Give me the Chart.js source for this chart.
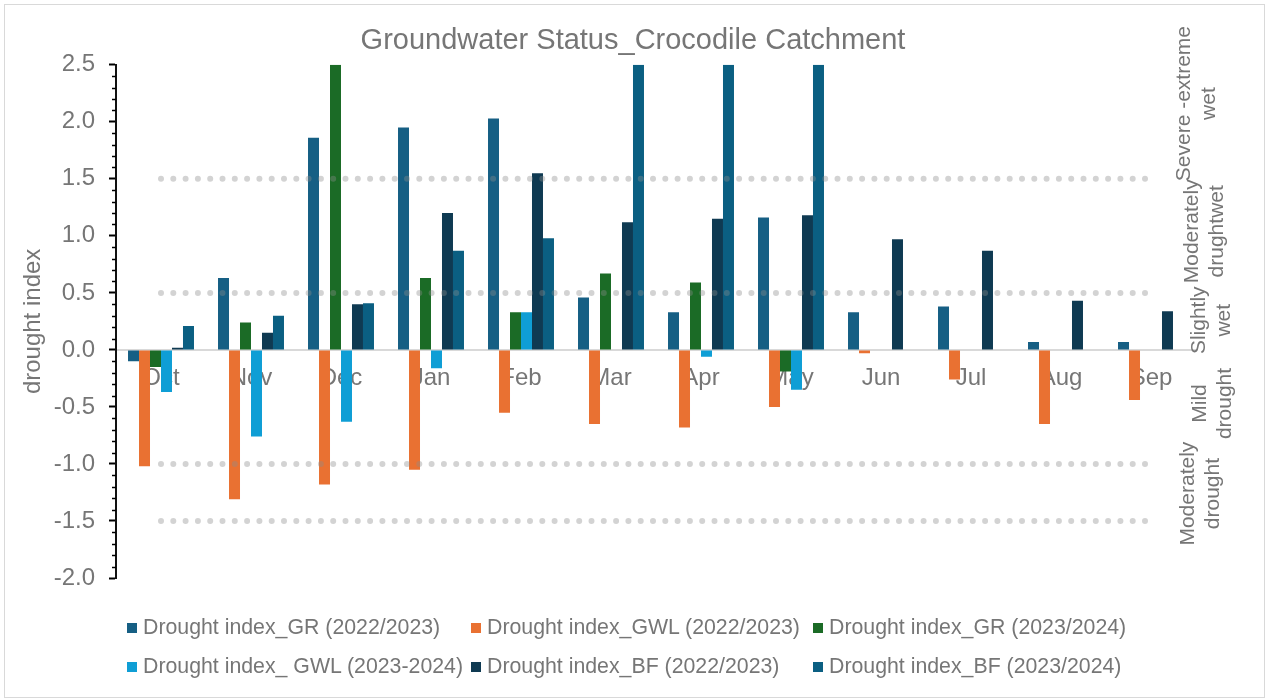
<!DOCTYPE html>
<html>
<head>
<meta charset="utf-8">
<title>Groundwater Status_Crocodile Catchment</title>
<script src="https://cdn.jsdelivr.net/npm/chart.js@4.4.1/dist/chart.umd.min.js"></script>
<style>
    html, body { margin: 0; padding: 0; background: #fff; }
    #wrap { position: relative; width: 1266px; height: 699px; font-family: "Liberation Sans", Arial, sans-serif; }
    #frame { position: absolute; left: 4px; top: 4px; width: 1259px; height: 692px; border: 1px solid #d9d9d9; pointer-events: none; }
    #legend { position: absolute; left: 127px; top: 608px; display: grid; grid-template-columns: 344px 342px 360px; grid-auto-rows: 39px; }
    .legend-item { display: flex; align-items: center; font-size: 21.3px; color: #767676; white-space: nowrap; }
    .legend-box { width: 10px; height: 10px; margin-right: 6px; flex: none; }
</style>
</head>
<body>
<div id="wrap">
    <canvas id="chart" width="1266" height="699"></canvas>
    <div id="frame"></div>
    <div id="legend"></div>
</div>
<script>
const months = ['Oct', 'Nov', 'Dec', 'Jan', 'Feb', 'Mar', 'Apr', 'May', 'Jun', 'Jul', 'Aug', 'Sep'];

// drought index values per month
const grPrev = [-0.10, 0.63, 1.86, 1.95, 2.03, 0.46, 0.33, 1.16, 0.33, 0.38, 0.07, 0.07];
const gwlPrev = [-1.02, -1.31, -1.18, -1.05, -0.55, -0.65, -0.68, -0.50, -0.03, -0.26, -0.65, -0.44];
const grCurr = [-0.15, 0.24, 2.5, 0.63, 0.33, 0.67, 0.59, -0.19, null, null, null, null];
const gwlCurr = [-0.37, -0.76, -0.63, -0.16, 0.33, null, -0.06, -0.35, null, null, null, null];
const bfPrev = [0.02, 0.15, 0.40, 1.20, 1.55, 1.12, 1.15, 1.18, 0.97, 0.87, 0.43, 0.34];
const bfCurr = [0.21, 0.30, 0.41, 0.87, 0.98, 2.5, 2.5, 2.5, null, null, null, null];

// class boundaries (dotted lines)
const severeWet = [1.5, 1.5, 1.5, 1.5, 1.5, 1.5, 1.5, 1.5, 1.5, 1.5, 1.5, 1.5];
const slightWet = [0.5, 0.5, 0.5, 0.5, 0.5, 0.5, 0.5, 0.5, 0.5, 0.5, 0.5, 0.5];
const moderateDrought = [-1.0, -1.0, -1.0, -1.0, -1.0, -1.0, -1.0, -1.0, -1.0, -1.0, -1.0, -1.0];
const severeDrought = [-1.5, -1.5, -1.5, -1.5, -1.5, -1.5, -1.5, -1.5, -1.5, -1.5, -1.5, -1.5];

const seriesNames = [
    'Drought index_GR (2022/2023)',
    'Drought index_GWL (2022/2023)',
    'Drought index_GR (2023/2024)',
    'Drought index_ GWL (2023-2024)',
    'Drought index_BF (2022/2023)',
    'Drought index_BF (2023/2024)'
];
const seriesData = [grPrev, gwlPrev, grCurr, gwlCurr, bfPrev, bfCurr];
const seriesColors = ['#165f84', '#e97132', '#1b6b26', '#0f9ed5', '#0f3a52', '#0b5f82'];

const classLabels = [
    { lines: ['Severe -extreme', 'wet'], value: 2.16, x: 1197 },
    { lines: ['Moderately', 'drughtwet'], value: 1.04, x: 1205 },
    { lines: ['Slightly', 'wet'], value: 0.26, x: 1212 },
    { lines: ['Mild', 'drought'], value: -0.47, x: 1213 },
    { lines: ['Moderately', 'drought'], value: -1.26, x: 1201 }
];

const textGray = '#767676';
const fontFamily = '"Liberation Sans", Arial, sans-serif';

const extras = {
    id: 'extras',
    afterDraw(chart) {
        const ctx = chart.ctx;
        const y = chart.scales.y;
        const left = chart.chartArea.left;

        // minor tick marks every 0.1
        ctx.save();
        ctx.strokeStyle = '#000';
        ctx.lineWidth = 1.5;
        for (let i = -20; i <= 25; i++) {
            if (i % 5 === 0) continue;
            const py = Math.round(y.getPixelForValue(i / 10)) + 0.5;
            ctx.beginPath();
            ctx.moveTo(left - 4, py);
            ctx.lineTo(left, py);
            ctx.stroke();
        }
        ctx.restore();

        // class labels on the right
        ctx.save();
        ctx.fillStyle = textGray;
        ctx.font = '21px ' + fontFamily;
        ctx.textAlign = 'center';
        ctx.textBaseline = 'middle';
        classLabels.forEach(lbl => {
            ctx.save();
            ctx.translate(lbl.x, y.getPixelForValue(lbl.value));
            ctx.rotate(-Math.PI / 2);
            const lh = 25;
            lbl.lines.forEach((t, i) => {
                ctx.fillText(t, 0, (i - (lbl.lines.length - 1) / 2) * lh);
            });
            ctx.restore();
        });
        ctx.restore();
    }
};

function dottedLine(data) {
    return {
        type: 'line',
        data: data,
        borderColor: 'rgba(140,140,140,0.38)',
        borderWidth: 6,
        borderDash: [0, 12.3],
        borderCapStyle: 'round',
        pointRadius: 0,
        fill: false,
        order: 0
    };
}

const datasets = seriesNames.map((name, i) => ({
    type: 'bar',
    label: name,
    data: seriesData[i],
    backgroundColor: seriesColors[i],
    barPercentage: 1,
    categoryPercentage: 0.733,
    order: 1
}));
[severeWet, slightWet, moderateDrought, severeDrought].forEach(d => datasets.push(dottedLine(d)));

new Chart(document.getElementById('chart').getContext('2d'), {
    type: 'bar',
    data: { labels: months, datasets: datasets },
    options: {
        responsive: false,
        animation: false,
        devicePixelRatio: 1,
        layout: { padding: { left: 0, right: 0, top: 0, bottom: 121 } },
        plugins: {
            legend: { display: false },
            tooltip: { enabled: false },
            title: {
                display: true,
                text: 'Groundwater Status_Crocodile Catchment',
                color: textGray,
                font: { family: fontFamily, size: 29, weight: 'normal' },
                padding: { top: 24, bottom: 6 }
            }
        },
        scales: {
            x: {
                position: { y: 0 },
                grid: { display: false, drawTicks: false },
                border: { display: true, color: '#d9d9d9', width: 2 },
                ticks: {
                    color: textGray,
                    font: { family: fontFamily, size: 24 },
                    padding: 14,
                    maxRotation: 0,
                    autoSkip: false
                }
            },
            y: {
                min: -2,
                max: 2.5,
                afterFit(scale) { scale.width = 116; },
                grid: { drawOnChartArea: false, drawTicks: true, tickLength: 7, tickColor: '#000', tickWidth: 2 },
                border: { display: true, color: '#111', width: 2 },
                ticks: {
                    stepSize: 0.5,
                    color: textGray,
                    font: { family: fontFamily, size: 24 },
                    padding: 14,
                    callback: v => v.toFixed(1)
                },
                title: {
                    display: true,
                    text: 'drought index',
                    color: textGray,
                    font: { family: fontFamily, size: 24 },
                    padding: { top: 19, bottom: 0 }
                }
            },
            // empty right band that holds the class labels
            side: {
                position: 'right',
                min: -2,
                max: 2.5,
                afterFit(scale) { scale.width = 70; },
                grid: { display: false, drawTicks: false },
                border: { display: false },
                ticks: { display: false }
            }
        }
    },
    plugins: [extras]
});

// legend in three columns
const legend = document.getElementById('legend');
seriesNames.forEach((name, i) => {
    const item = document.createElement('div');
    item.className = 'legend-item';
    item.innerHTML = `<span class="legend-box" style="background:${seriesColors[i]}"></span>${name}`;
    legend.appendChild(item);
});
</script>
</body>
</html>
